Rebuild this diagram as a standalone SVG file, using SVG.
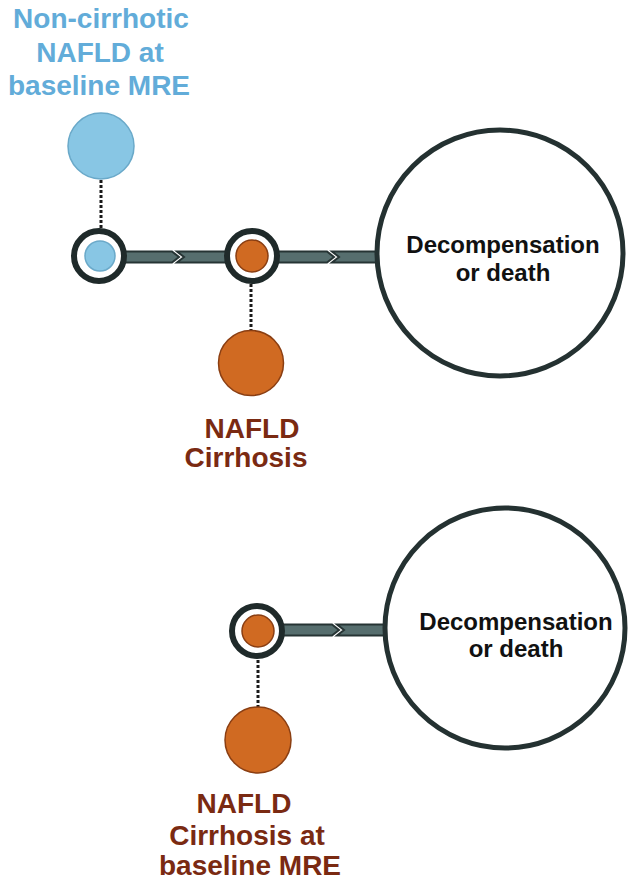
<svg xmlns="http://www.w3.org/2000/svg" width="633" height="887" viewBox="0 0 633 887">
<style>
.blueT{font-family:"Liberation Sans",Arial,sans-serif;font-weight:bold;font-size:28px;fill:#62acd9;text-anchor:middle}
.brownT{font-family:"Liberation Sans",Arial,sans-serif;font-weight:bold;font-size:28px;fill:#7a2a12;text-anchor:middle}
.endT{font-family:"Liberation Sans",Arial,sans-serif;font-weight:bold;font-size:24px;fill:#111;text-anchor:middle}
.ring{fill:#fff;stroke:#1f2a2a;stroke-width:6}
.big{fill:#fff;stroke:#243131;stroke-width:5}
.bar{fill:#566e6e;stroke:#263434;stroke-width:2;stroke-linejoin:miter}
.dot{stroke:#1a1a1a;stroke-width:3;stroke-dasharray:3 2;fill:none}
.blue{fill:#88c6e4;stroke:#6aa9c9;stroke-width:1.5}
.orange{fill:#d06a22;stroke:#8a3e12;stroke-width:1.5}
</style>
<rect width="633" height="887" fill="#fff"/>
<g id="connectors">
  <path class="bar" d="M125,251.5 L172,251.5 L179,257 L172,262.5 L125,262.5 Z"/>
  <path class="bar" d="M177,251.5 L226,251.5 L226,262.5 L177,262.5 L184,257 Z"/>
  <path class="bar" d="M277,251.5 L327,251.5 L334,257 L327,262.5 L277,262.5 Z"/>
  <path class="bar" d="M332,251.5 L378,251.5 L378,262.5 L332,262.5 L339,257 Z"/>
  <path class="bar" d="M282,624.5 L332,624.5 L339,630 L332,635.5 L282,635.5 Z"/>
  <path class="bar" d="M337,624.5 L387,624.5 L387,635.5 L337,635.5 L344,630 Z"/>
  <line class="dot" x1="101" y1="180" x2="101" y2="229"/>
  <line class="dot" x1="251" y1="284" x2="251" y2="330"/>
  <line class="dot" x1="258" y1="660" x2="258" y2="707"/>
</g>
<g id="label-noncirrhotic">
  <text class="blueT" x="101" y="28">Non-cirrhotic</text>
  <text class="blueT" x="100" y="62">NAFLD at</text>
  <text class="blueT" x="99" y="95">baseline MRE</text>
</g>
<g id="node-blue-big"><circle class="blue" cx="101" cy="146" r="33"/></g>
<g id="node-ring1">
  <circle class="ring" cx="99" cy="256" r="25"/>
  <circle class="blue" cx="100" cy="256" r="15"/>
</g>
<g id="node-ring2">
  <circle class="ring" cx="252" cy="256" r="25"/>
  <circle class="orange" cx="252" cy="256" r="16"/>
</g>
<g id="node-end1">
  <circle class="big" cx="500" cy="253" r="123"/>
  <text class="endT" x="503" y="253">Decompensation</text>
  <text class="endT" x="503" y="281">or death</text>
</g>
<g id="node-orange-big1"><circle class="orange" cx="251" cy="363" r="32.5"/></g>
<g id="label-cirrhosis">
  <text class="brownT" x="252" y="438">NAFLD</text>
  <text class="brownT" x="246" y="467">Cirrhosis</text>
</g>
<g id="node-ring3">
  <circle class="ring" cx="257" cy="631" r="25"/>
  <circle class="orange" cx="258" cy="631" r="16"/>
</g>
<g id="node-end2">
  <circle class="big" cx="505" cy="628" r="120"/>
  <text class="endT" x="516" y="630">Decompensation</text>
  <text class="endT" x="516" y="657">or death</text>
</g>
<g id="node-orange-big2"><circle class="orange" cx="258" cy="740" r="33"/></g>
<g id="label-cirrhosis-baseline">
  <text class="brownT" x="244" y="813">NAFLD</text>
  <text class="brownT" x="247" y="845">Cirrhosis at</text>
  <text class="brownT" x="250" y="875">baseline MRE</text>
</g>
</svg>
